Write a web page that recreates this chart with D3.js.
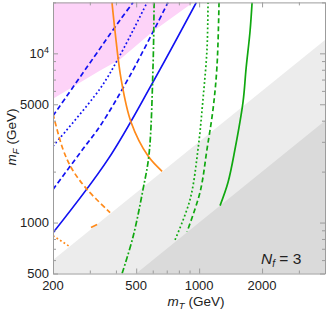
<!DOCTYPE html>
<html>
<head>
<meta charset="utf-8">
<script src="https://cdn.jsdelivr.net/npm/d3@7"></script>
<style>
  body { margin: 0; background: #fff; }
  svg text { font-family: "Liberation Sans", Arial, sans-serif; fill: #222; }
</style>
</head>
<body>
<svg id="chart" width="327" height="313"></svg>
<script>
// ---- data (GeV) ----
var xMajor = [200, 500, 1000, 2000];
var xMinor = [300, 400, 600, 700, 800, 900, 3000, 4000];
var yMajor = [500, 1000, 5000, 10000];
var yMinor = [600, 700, 800, 900, 2000, 3000, 4000, 6000, 7000, 8000, 9000, 20000];

// excluded wedges: mF < ratio * mT
var grayRatios = [3, 1];

// pink region lower edge
var pinkEdge = [[200, 5390], [336, 7910], [418, 9200], [602, 13500], [935, 20000]];

var blueSolid = [[200, 870], [367, 2370], [595, 6600], [970, 20000]];
var blueDashLow = [[200, 1570], [278, 2720], [336, 3720], [467, 7390], [710, 20000]];
var blueDotted = [[200, 2830], [336, 6190], [418, 9720], [564, 20000]];
var blueDashTop = [[200, 4270], [336, 10700], [418, 15700], [483, 20000]];

var orangeSolid = [[383, 20000], [396, 13500], [423, 7090], [472, 3930], [570, 2470], [665, 2010]];
var orangeDashed = [[200, 4390], [223, 2720], [247, 2065], [291, 1570], [375, 1146]];
var orangeDotted = [[200, 836], [241, 720]];
var orangeDotted2 = [[304, 935], [325, 975]];

var greenDashDot = [[609, 20000], [602, 8480], [576, 2540], [539, 1570], [483, 824], [428, 500]];
var greenDotted = [[1103, 20000], [1091, 10700], [1044, 5390], [988, 2720], [905, 1370], [767, 790]];
var greenDashed = [[1245, 20000], [1218, 8480], [1166, 4700], [1091, 2720], [1010, 1510], [875, 883]];
var greenSolid = [[1792, 20000], [1752, 13500], [1677, 8130], [1622, 5170], [1485, 2720], [1375, 1730], [1259, 1260]];

// ---- setup ----
var padL = 53, padR = 325, padT = 2.4, padB = 273.5;

var x = d3.scaleLog().domain([200, 4000]).range([padL, padR]);
var y = d3.scaleLog().domain([500, 20000]).range([padB, padT]);

var svg = d3.select("#chart");

svg.append("clipPath").attr("id", "plot")
  .append("rect")
    .attr("x", padL).attr("y", padT)
    .attr("width", padR - padL).attr("height", padB - padT);

var g = svg.append("g").attr("clip-path", "url(#plot)");

// gray wedges
var grayFill = ["#ececec", "#dadada"];
grayRatios.forEach(function(r, i) {
  var pts = [[200, 200 * r], [4000, 4000 * r], [4000, 100], [200, 100]];
  g.append("path")
    .attr("d", d3.line().x(d => x(d[0])).y(d => y(d[1]))(pts))
    .attr("fill", grayFill[i]);
});

// pink region
var pinkPts = pinkEdge.concat([[935, 40000], [200, 40000]]);
g.append("path")
  .attr("d", d3.line().x(d => x(d[0])).y(d => y(d[1])).curve(d3.curveLinear)(pinkPts))
  .attr("fill", "#fdd3f8");

var line = d3.line()
  .x(d => x(d[0]))
  .y(d => y(d[1]))
  .curve(d3.curveCatmullRom);

var curves = [
  {data: blueSolid, color: "#1212f2", dash: null},
  {data: blueDashLow, color: "#1212f2", dash: "5,3"},
  {data: blueDotted, color: "#1212f2", dash: "1.8,2.4"},
  {data: blueDashTop, color: "#1212f2", dash: "5,3"},
  {data: orangeSolid, color: "#ff8a1a", dash: null},
  {data: orangeDashed, color: "#ff8a1a", dash: "5,3"},
  {data: orangeDotted, color: "#ff8a1a", dash: "1.8,2.4"},
  {data: orangeDotted2, color: "#ff8a1a", dash: null},
  {data: greenDashDot, color: "#10a810", dash: "6,2.2,1.8,2.2"},
  {data: greenDotted, color: "#10a810", dash: "1.8,2.4"},
  {data: greenDashed, color: "#10a810", dash: "5,3"},
  {data: greenSolid, color: "#10a810", dash: null}
];

g.selectAll(".curve")
  .data(curves)
  .enter()
  .append("path")
    .classed("curve", true)
    .attr("d", d => line(d.data))
    .attr("fill", "none")
    .attr("stroke", d => d.color)
    .attr("stroke-width", 1.7)
    .attr("stroke-dasharray", d => d.dash);

// ---- frame + ticks ----
var frameColor = "#9c9c9c";

function tickAxis(axis, pos, vals, size, keepDomain) {
  var a = svg.append("g")
    .attr("transform", pos)
    .call(axis.tickValues(vals).tickSize(size).tickSizeOuter(0).tickFormat(""));
  if (!keepDomain) a.select(".domain").remove();
  a.selectAll("path,line").attr("stroke", frameColor);
}

tickAxis(d3.axisBottom(x), "translate(0," + padB + ")", xMajor, -5, true);
tickAxis(d3.axisBottom(x), "translate(0," + padB + ")", xMinor, -3, false);
tickAxis(d3.axisTop(x), "translate(0," + padT + ")", xMajor, -5, true);
tickAxis(d3.axisTop(x), "translate(0," + padT + ")", xMinor, -3, false);
tickAxis(d3.axisLeft(y), "translate(" + padL + ",0)", yMajor, -5, true);
tickAxis(d3.axisLeft(y), "translate(" + padL + ",0)", yMinor, -3, false);
tickAxis(d3.axisRight(y), "translate(" + padR + ",0)", yMajor, -5, true);
tickAxis(d3.axisRight(y), "translate(" + padR + ",0)", yMinor, -3, false);

// tick labels
svg.selectAll(".xlab")
  .data(xMajor)
  .enter()
  .append("text")
    .attr("x", d => x(d))
    .attr("y", padB + 16)
    .attr("text-anchor", "middle")
    .attr("font-size", 13)
    .text(d => d);

var ylab = svg.selectAll(".ylab")
  .data(yMajor)
  .enter()
  .append("text")
    .attr("x", padL - 4)
    .attr("y", d => y(d) + 4.5)
    .attr("text-anchor", "end")
    .attr("font-size", 13);
ylab.each(function(d) {
  var t = d3.select(this);
  if (d === 10000) {
    t.append("tspan").text("10");
    t.append("tspan").attr("dy", -5).attr("font-size", 9).text("4");
  } else {
    t.text(d);
  }
});

// axis titles
var xt = svg.append("text")
  .attr("x", 196).attr("y", 306)
  .attr("text-anchor", "middle")
  .attr("font-size", 13.5);
xt.append("tspan").attr("font-style", "italic").text("m");
xt.append("tspan").attr("font-style", "italic").attr("font-size", 9.5).attr("dy", 3).text("T");
xt.append("tspan").attr("dy", -3).text(" (GeV)");

var yt = svg.append("text")
  .attr("transform", "translate(16,137) rotate(-90)")
  .attr("text-anchor", "middle")
  .attr("font-size", 13.5);
yt.append("tspan").attr("font-style", "italic").text("m");
yt.append("tspan").attr("font-style", "italic").attr("font-size", 9.5).attr("dy", 3).text("F");
yt.append("tspan").attr("dy", -3).text(" (GeV)");

// N_f label
var nf = svg.append("text")
  .attr("x", 261).attr("y", 264)
  .attr("font-size", 15.5);
nf.append("tspan").attr("font-style", "italic").text("N");
nf.append("tspan").attr("font-style", "italic").attr("font-size", 10).attr("dy", 3).text("f");
nf.append("tspan").attr("dy", -3).text(" = 3");
</script>
</body>
</html>
